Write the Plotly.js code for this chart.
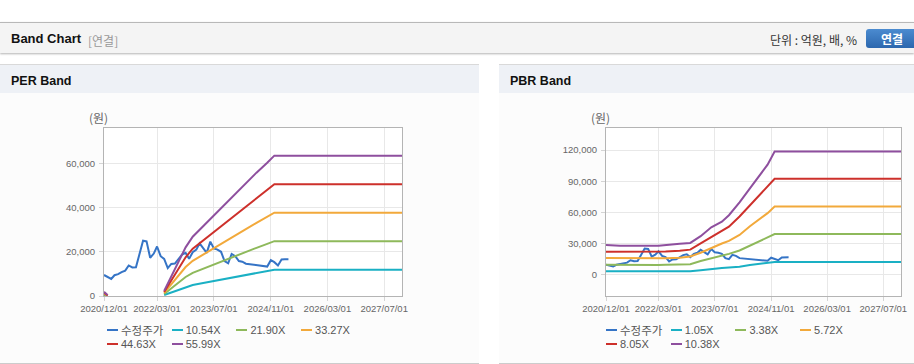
<!DOCTYPE html>
<html><head><meta charset="utf-8">
<script src="https://cdn.plot.ly/plotly-3.0.1.min.js"></script>
<style>
body{margin:0;width:914px;height:364px;overflow:hidden;background:#fff;font-family:"Liberation Sans",Arial,"Noto Sans CJK KR",sans-serif;position:relative}
.abs{position:absolute}
#hdr{left:0;top:22px;width:914px;height:30px;background:#f4f4f4;border-top:1px solid #b8b8b8;box-shadow:0 1px 2px rgba(0,0,0,0.3)}
#hdrTitle{left:11px;top:8px;font-size:13px;font-weight:bold;color:#111}
#hdrSub{left:88px;top:9px;font-size:12px;color:#999;font-family:"Noto Sans CJK KR",sans-serif}
#unit{left:770px;top:8px;font-size:12px;color:#333;font-family:"Noto Sans CJK KR",sans-serif}
#btn{left:866px;top:6px;width:52px;height:19px;border-radius:3px;background:linear-gradient(#4b8bd0,#2c67ae);color:#fff;font-weight:bold;font-size:12px;text-align:center;line-height:19px;font-family:"Noto Sans CJK KR",sans-serif}
.panel{top:64px;height:298px;background:#fcfcfc;border-top:1px solid #d9d9d9;border-bottom:1px solid #cccccc}
.pbar{left:0;top:0;right:0;height:28px;background:#eef1f6}
.ptitle{left:11px;top:9px;font-size:12.5px;font-weight:bold;color:#111}
.chart{top:92px;height:270px}
.legend{display:flex;flex-wrap:wrap;width:260px}
.li{width:64.7px;height:14px;display:flex;align-items:center;font-size:11px;color:#555;white-space:nowrap}
.sw{width:11px;height:2.5px;margin-right:3px;flex:none}
.ko{font-family:"Noto Sans CJK KR",sans-serif;font-size:11.5px}
</style>
</head><body>
<div id="hdr" class="abs">
  <div id="hdrTitle" class="abs">Band Chart</div>
  <div id="hdrSub" class="abs">[연결]</div>
  <div id="unit" class="abs">단위 : 억원, 배, %</div>
  <div id="btn" class="abs">연결</div>
</div>
<div class="abs panel" style="left:0;width:479px"><div class="abs pbar"></div><div class="abs ptitle">PER Band</div></div>
<div class="abs panel" style="left:499px;width:415px"><div class="abs pbar"></div><div class="abs ptitle">PBR Band</div></div>
<div id="perChart" class="abs chart" style="left:0;width:479px"></div>
<div id="pbrChart" class="abs chart" style="left:499px;width:415px"></div>
<div id="perLegend" class="abs legend" style="left:107px;top:323px"></div>
<div id="pbrLegend" class="abs legend" style="left:606px;top:323px"></div>
<script>
// ---- data ----
const priceName = '수정주가';
const priceDates = ['2020-12-01','2021-01-01','2021-02-01','2021-03-01','2021-04-01','2021-05-01','2021-06-01','2021-07-01','2021-08-01','2021-09-01','2021-10-01','2021-11-01','2021-12-01',
 '2022-01-01','2022-02-01','2022-03-01','2022-04-01','2022-05-01','2022-06-01','2022-07-01','2022-08-01','2022-09-01','2022-10-01','2022-11-01','2022-12-01',
 '2023-01-01','2023-02-01','2023-03-01','2023-04-01','2023-05-01','2023-06-01','2023-07-01','2023-08-01','2023-09-01','2023-10-01','2023-11-01','2023-12-01',
 '2024-01-01','2024-02-01','2024-03-01','2024-04-01','2024-05-01','2024-06-01','2024-07-01','2024-08-01','2024-09-01','2024-10-01','2024-11-01','2024-12-01',
 '2025-01-01','2025-02-01','2025-03-01','2025-04-01'];
const priceVals = [9500,8400,7700,9400,9900,10800,11500,13800,12900,13000,19000,25000,24700,
 17300,19200,22400,18000,16800,12600,14500,14700,16500,18700,19500,16800,
 19800,21000,23800,21500,19500,24600,21500,21000,20000,15800,14800,19000,
 18000,15800,15500,14600,14400,14300,13800,13700,13600,13300,16200,15300,
 13800,16500,16600,16600];

const perNames = ['10.54X','21.90X','33.27X','44.63X','55.99X'];
const perDates = ['2020-12-01','2021-01-01','2021-02-01','2022-05-01','2022-07-01','2022-09-01','2022-11-01','2023-01-01','2023-04-01','2023-07-01','2023-10-01','2024-01-01','2024-04-01','2024-07-01','2024-10-01','2024-12-01','2027-12-01'];
const per1054 = [350,80,null,430,1650,2900,4100,5000,5900,6800,7800,8700,9600,10500,11300,11900,11900];
const per2190 = [700,150,null,900,3400,6000,8600,10500,12400,14200,16100,18100,19900,21800,23600,24800,24800];
const per3327 = [1100,200,null,1400,5200,9100,13100,15900,18800,21600,24500,27400,30300,33100,35800,37700,37700];
const per4463 = [1500,300,null,1800,7000,12300,17500,21400,25200,29000,32900,36800,40600,44500,48100,50600,50600];
const per5599 = [1900,400,null,2300,8800,15400,22000,26800,31600,36400,41300,46200,51000,55800,60300,63500,63500];

const pbrNames = ['1.05X','3.38X','5.72X','8.05X','10.38X'];
const pbrDates = ['2020-12-01','2021-04-01','2022-03-01','2022-05-01','2022-09-01','2022-12-01','2023-03-01','2023-06-01','2023-09-01','2023-11-01','2024-02-01','2024-05-01','2024-08-01','2024-10-01','2024-12-01','2027-12-01'];
const pbr105  = [3200,3200,3200,3200,3200,3200,4200,5500,6300,6900,7600,9300,10600,11300,12000,12000];
const pbr338  = [9400,9200,9300,9400,9700,10000,13100,15500,18000,19900,23200,28000,32500,36100,39000,39000];
const pbr572  = [16000,15800,15400,15600,16300,17400,21000,25800,29900,32400,38200,46500,54200,59200,65500,65500];
const pbr805  = [21900,21900,21900,22300,22900,24000,30000,35900,41900,46200,56000,66900,77500,85500,92300,92300];
const pbr1038 = [28400,27700,27700,28500,29700,30500,37000,45500,51000,57200,69500,83000,97500,106000,118700,118700];

const xTicks = ['2020-12-01','2022-03-01','2023-07-01','2024-11-01','2026-03-01','2027-07-01'];
const xRange = ['2020-12-01','2027-12-01'];
const perYRange = [0,76000], perDtick = 20000;
const pbrYRange = [-20700,141300], pbrDtick = 30000;
const unitLabel = '(원)';
const colors = ['#3574c6','#1ab0c4','#8eb95b','#f2a93b','#cd302b','#8e4f9e'];

// ---- build ----
function traces(dates, bands, names){
  const t = [{x:priceDates,y:priceVals,name:priceName,type:'scatter',mode:'lines',line:{color:colors[0],width:2},connectgaps:false}];
  bands.forEach((b,i)=>t.push({x:dates,y:b,name:names[i],type:'scatter',mode:'lines',line:{color:colors[i+1],width:2},connectgaps:false}));
  return t;
}
function layout(yr,dt,ml,mr){
  const ax = {showgrid:true,gridcolor:'#e8e8e8',gridwidth:1,showline:true,linecolor:'#b4b4b4',linewidth:1,mirror:true,
    ticks:'outside',ticklen:4,tickcolor:'#d4d4d4',zeroline:false,tickfont:{size:9.5,color:'#666',family:'"Liberation Sans",Arial,sans-serif'}};
  return {
    width: ml+mr+(ml===104?298:295), height:270,
    margin:{l:ml,r:mr,t:36,b:66,pad:0},
    paper_bgcolor:'rgba(0,0,0,0)', plot_bgcolor:'#ffffff', showlegend:false,
    xaxis:Object.assign({},ax,{type:'date',range:xRange,tickvals:xTicks,tickformat:'%Y/%m/%d'}),
    yaxis:Object.assign({},ax,{range:yr,dtick:dt,tick0:0,tickformat:',d',ticklabelstandoff:2}),
    annotations:[{xref:'paper',yref:'paper',x:-0.018,y:1.06,text:unitLabel,showarrow:false,xanchor:'center',yanchor:'middle',
      font:{size:12,color:'#666',family:'"Noto Sans CJK KR",sans-serif'}}]
  };
}
const cfg = {staticPlot:true,displayModeBar:false};
Plotly.newPlot('perChart', traces(perDates,[per1054,per2190,per3327,per4463,per5599],perNames), layout(perYRange,perDtick,104,77), cfg);
Plotly.newPlot('pbrChart', traces(pbrDates,[pbr105,pbr338,pbr572,pbr805,pbr1038],pbrNames), layout(pbrYRange,pbrDtick,107,13), cfg);

function legend(id,names){
  const el = document.getElementById(id);
  [priceName].concat(names).forEach((n,i)=>{
    const d = document.createElement('div'); d.className='li';
    const s = document.createElement('span'); s.className='sw'; s.style.background=colors[i];
    const t = document.createElement('span'); t.textContent=n; if(i===0) t.className='ko';
    d.appendChild(s); d.appendChild(t); el.appendChild(d);
  });
}
legend('perLegend',perNames);
legend('pbrLegend',pbrNames);
</script>
</body></html>
